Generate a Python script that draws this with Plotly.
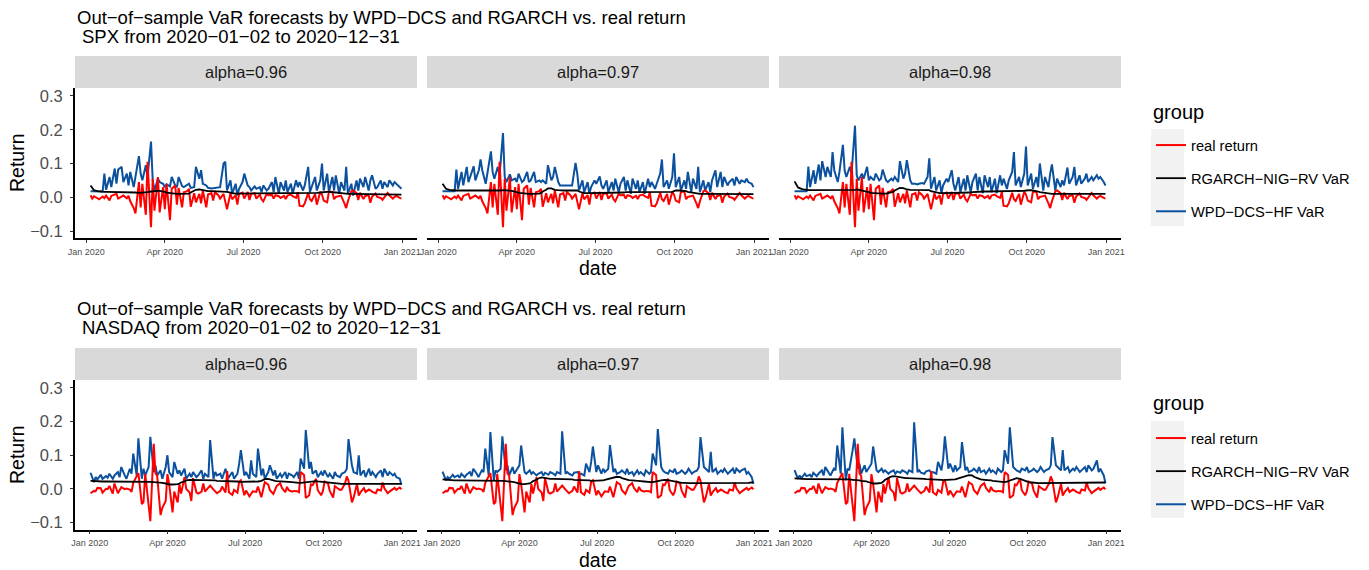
import pandas as pd
import plotly.graph_objects as go

W, H = 1369, 570
FONT = "Liberation Sans, Arial, Helvetica, sans-serif"

# ---------------- data ----------------
# trading-day grids (every second business day)
spx_dates = pd.bdate_range("2020-01-06", "2020-12-31")[::2]   # 130 points
ndq_dates = pd.bdate_range("2020-01-02", "2020-12-31")[::2]   # 131 points

facet_labels = ["alpha=0.96", "alpha=0.97", "alpha=0.98"]
group_names = ["real return", "RGARCH\u2212NIG\u2212RV VaR", "WPD\u2212DCS\u2212HF VaR"]
y_tickvals = [-0.1, 0.0, 0.1, 0.2, 0.3]
y_ticktext = ["\u22120.1", "0.0", "0.1", "0.2", "0.3"]

spx_real = [
    0.006, -0.004, 0.003, -0.002, -0.006, 0.002, -0.003, 0.005, -0.009, 0.004,
    0.007, 0.010, -0.004, 0.003, 0.005, -0.003, 0.004, -0.012, -0.032, -0.048,
    0.045, -0.030, 0.040, -0.052, 0.105, -0.089, 0.055, -0.040, 0.060, -0.045,
    0.030, -0.035, 0.040, -0.068, 0.025, 0.035, -0.022, 0.028, -0.030, 0.015,
    0.018, 0.025, -0.028, 0.012, -0.015, 0.010, -0.018, 0.020, -0.030, 0.008,
    0.012, -0.010, 0.015, 0.006, -0.004, 0.010, -0.012, -0.036, 0.012, -0.006,
    0.006, -0.022, 0.010, 0.014, -0.004, 0.016, -0.008, 0.010, 0.012, -0.004,
    0.008, -0.006, -0.012, 0.010, 0.006, 0.007, -0.004, 0.006, 0.003, -0.002,
    0.004, -0.005, 0.005, 0.008, 0.003, -0.002, 0.015, -0.025, -0.027, -0.018,
    0.013, -0.006, -0.011, 0.010, -0.022, 0.016, 0.008, -0.010, -0.015, 0.017,
    0.016, -0.006, 0.001, 0.005, 0.005, -0.018, -0.032, -0.012, 0.018, 0.020,
    0.012, -0.008, 0.013, -0.005, 0.004, 0.006, -0.016, 0.002, 0.011, 0.001,
    -0.002, -0.008, -0.001, 0.013, 0.006, -0.004, 0.001, 0.004, -0.002, -0.004,
]

spx_rgarch_096 = [
    0.035, 0.027, 0.021, 0.018, 0.017, 0.016, 0.016, 0.016, 0.016, 0.016,
    0.016, 0.016, 0.015, 0.015, 0.015, 0.014, 0.014, 0.014, 0.014, 0.014,
    0.013, 0.013, 0.013, 0.014, 0.015, 0.017, 0.018, 0.019, 0.019, 0.019,
    0.018, 0.016, 0.014, 0.012, 0.011, 0.011, 0.010, 0.010, 0.010, 0.010,
    0.010, 0.011, 0.014, 0.018, 0.022, 0.023, 0.022, 0.020, 0.019, 0.018,
    0.018, 0.018, 0.018, 0.018, 0.018, 0.018, 0.018, 0.016, 0.014, 0.012,
    0.011, 0.011, 0.011, 0.011, 0.011, 0.011, 0.011, 0.011, 0.011, 0.011,
    0.011, 0.011, 0.012, 0.012, 0.013, 0.013, 0.013, 0.013, 0.013, 0.013,
    0.013, 0.013, 0.013, 0.013, 0.013, 0.013, 0.013, 0.013, 0.013, 0.013,
    0.013, 0.013, 0.013, 0.013, 0.013, 0.014, 0.015, 0.016, 0.016, 0.016,
    0.016, 0.015, 0.014, 0.013, 0.012, 0.011, 0.010, 0.010, 0.010, 0.010,
    0.010, 0.010, 0.009, 0.009, 0.009, 0.009, 0.009, 0.009, 0.009, 0.009,
    0.009, 0.009, 0.009, 0.009, 0.009, 0.008, 0.008, 0.008, 0.008, 0.008,
]
spx_rgarch_097 = [
    0.040, 0.031, 0.025, 0.022, 0.021, 0.020, 0.020, 0.020, 0.020, 0.020,
    0.020, 0.020, 0.020, 0.019, 0.019, 0.019, 0.018, 0.018, 0.018, 0.018,
    0.018, 0.018, 0.018, 0.019, 0.020, 0.021, 0.021, 0.021, 0.020, 0.019,
    0.017, 0.015, 0.013, 0.012, 0.011, 0.011, 0.010, 0.010, 0.010, 0.010,
    0.011, 0.013, 0.017, 0.022, 0.026, 0.026, 0.024, 0.022, 0.021, 0.020,
    0.020, 0.020, 0.020, 0.020, 0.020, 0.020, 0.020, 0.017, 0.014, 0.012,
    0.012, 0.012, 0.012, 0.012, 0.012, 0.012, 0.012, 0.012, 0.012, 0.012,
    0.012, 0.012, 0.013, 0.013, 0.014, 0.014, 0.015, 0.015, 0.015, 0.015,
    0.015, 0.015, 0.015, 0.015, 0.015, 0.015, 0.015, 0.015, 0.015, 0.015,
    0.015, 0.015, 0.015, 0.015, 0.015, 0.016, 0.018, 0.020, 0.020, 0.020,
    0.020, 0.018, 0.016, 0.014, 0.012, 0.011, 0.010, 0.010, 0.010, 0.010,
    0.010, 0.010, 0.010, 0.010, 0.010, 0.010, 0.009, 0.009, 0.009, 0.009,
    0.009, 0.009, 0.009, 0.009, 0.009, 0.009, 0.009, 0.009, 0.009, 0.009,
]
spx_rgarch_098 = [
    0.047, 0.036, 0.029, 0.025, 0.023, 0.022, 0.021, 0.021, 0.021, 0.021,
    0.021, 0.021, 0.021, 0.020, 0.020, 0.020, 0.020, 0.020, 0.020, 0.020,
    0.020, 0.020, 0.020, 0.020, 0.021, 0.022, 0.023, 0.022, 0.021, 0.019,
    0.017, 0.015, 0.013, 0.012, 0.012, 0.011, 0.011, 0.011, 0.011, 0.012,
    0.013, 0.016, 0.020, 0.025, 0.028, 0.027, 0.025, 0.023, 0.022, 0.022,
    0.022, 0.022, 0.022, 0.022, 0.022, 0.022, 0.021, 0.018, 0.015, 0.013,
    0.012, 0.012, 0.012, 0.012, 0.012, 0.012, 0.012, 0.012, 0.012, 0.012,
    0.012, 0.012, 0.013, 0.014, 0.015, 0.016, 0.017, 0.017, 0.017, 0.017,
    0.017, 0.017, 0.017, 0.017, 0.017, 0.017, 0.017, 0.017, 0.017, 0.017,
    0.017, 0.017, 0.017, 0.017, 0.018, 0.019, 0.020, 0.021, 0.021, 0.020,
    0.019, 0.017, 0.015, 0.013, 0.012, 0.011, 0.011, 0.010, 0.010, 0.010,
    0.010, 0.010, 0.010, 0.010, 0.010, 0.010, 0.010, 0.010, 0.010, 0.010,
    0.010, 0.010, 0.010, 0.010, 0.010, 0.010, 0.010, 0.010, 0.010, 0.010,
]

spx_wpd_096 = [
    0.018, 0.018, 0.017, 0.017, 0.018, 0.017, 0.070, 0.022, 0.060, 0.030,
    0.085, 0.040, 0.082, 0.090, 0.045, 0.070, 0.035, 0.075, 0.030, 0.060,
    0.122, 0.070, 0.050, 0.095, 0.060, 0.165, 0.050, 0.020, 0.055, 0.045,
    0.040, 0.030, 0.038, 0.032, 0.060, 0.035, 0.030, 0.060, 0.033, 0.030,
    0.035, 0.040, 0.028, 0.030, 0.090, 0.055, 0.080, 0.040, 0.035, 0.028,
    0.026, 0.027, 0.026, 0.028, 0.030, 0.100, 0.105, 0.020, 0.050, 0.010,
    0.040, 0.005, 0.025, 0.045, 0.070, 0.035, 0.030, 0.020, 0.032, 0.025,
    0.030, 0.015, 0.035, 0.020, 0.025, 0.045, 0.015, 0.060, 0.010, 0.045,
    0.020, 0.050, 0.015, 0.040, 0.010, 0.050, 0.030, 0.045, 0.020, 0.035,
    0.090, 0.015, 0.030, 0.060, 0.020, 0.050, 0.100, 0.020, 0.070, 0.015,
    0.060, 0.020, 0.065, 0.010, 0.045, 0.020, 0.090, 0.010, 0.040, 0.005,
    0.050, 0.020, 0.055, 0.030, 0.060, 0.020, 0.050, 0.065, 0.025, 0.030,
    0.050, 0.025, 0.045, 0.030, 0.050, 0.035, 0.045, 0.040, 0.030, 0.025,
]
spx_wpd_097 = [
    0.018, 0.018, 0.018, 0.017, 0.018, 0.018, 0.082, 0.025, 0.075, 0.035,
    0.090, 0.045, 0.060, 0.092, 0.050, 0.080, 0.112, 0.080, 0.040, 0.070,
    0.136, 0.075, 0.055, 0.090, 0.065, 0.190, 0.060, 0.045, 0.068, 0.050,
    0.055, 0.045, 0.070, 0.045, 0.050, 0.075, 0.045, 0.050, 0.075, 0.045,
    0.050, 0.045, 0.050, 0.040, 0.095, 0.050, 0.060, 0.090, 0.045, 0.035,
    0.035, 0.034, 0.035, 0.036, 0.035, 0.102, 0.070, 0.020, 0.050, 0.015,
    0.045, 0.010, 0.030, 0.050, 0.040, 0.062, 0.035, 0.025, 0.050, 0.015,
    0.045, 0.020, 0.055, 0.015, 0.040, 0.060, 0.020, 0.050, 0.010, 0.055,
    0.025, 0.050, 0.015, 0.045, 0.010, 0.055, 0.030, 0.045, 0.025, 0.040,
    0.070, 0.112, 0.030, 0.050, 0.025, 0.060, 0.130, 0.030, 0.060, 0.020,
    0.050, 0.025, 0.075, 0.015, 0.055, 0.025, 0.090, 0.015, 0.050, 0.020,
    0.045, 0.015, 0.050, 0.080, 0.030, 0.075, 0.030, 0.060, 0.035, 0.045,
    0.055, 0.035, 0.060, 0.040, 0.050, 0.045, 0.055, 0.045, 0.040, 0.030,
]
spx_wpd_098 = [
    0.018, 0.018, 0.018, 0.018, 0.018, 0.018, 0.091, 0.030, 0.080, 0.040,
    0.097, 0.050, 0.107, 0.060, 0.090, 0.060, 0.134, 0.080, 0.045, 0.075,
    0.155, 0.080, 0.060, 0.090, 0.070, 0.212, 0.065, 0.050, 0.070, 0.055,
    0.090, 0.050, 0.060, 0.050, 0.070, 0.050, 0.055, 0.082, 0.050, 0.045,
    0.055, 0.050, 0.060, 0.045, 0.107, 0.055, 0.070, 0.110, 0.050, 0.040,
    0.040, 0.038, 0.040, 0.042, 0.040, 0.060, 0.115, 0.025, 0.060, 0.020,
    0.050, 0.012, 0.035, 0.055, 0.045, 0.080, 0.040, 0.020, 0.060, 0.015,
    0.055, 0.020, 0.065, 0.015, 0.045, 0.070, 0.020, 0.060, 0.012, 0.065,
    0.030, 0.060, 0.015, 0.055, 0.012, 0.065, 0.035, 0.055, 0.025, 0.050,
    0.075, 0.134, 0.035, 0.060, 0.030, 0.070, 0.150, 0.035, 0.070, 0.025,
    0.060, 0.030, 0.100, 0.020, 0.060, 0.030, 0.070, 0.097, 0.020, 0.055,
    0.030, 0.050, 0.035, 0.088, 0.040, 0.060, 0.090, 0.035, 0.065, 0.040,
    0.055, 0.070, 0.045, 0.060, 0.050, 0.065, 0.055, 0.060, 0.045, 0.035,
]

ndq_real = [
    -0.013, -0.006, -0.007, 0.003, 0.002, -0.011, 0.000, -0.001, 0.009, -0.014,
    0.016, -0.013, -0.004, 0.005, -0.001, 0.001, -0.002, -0.009, 0.018, 0.037,
    0.047, -0.045, -0.039, 0.045, -0.050, -0.096, 0.134, 0.047, 0.038, -0.078,
    -0.056, -0.036, 0.044, 0.015, -0.070, -0.008, -0.040, 0.014, -0.014, 0.035,
    0.000, -0.011, -0.036, 0.032, -0.011, -0.014, -0.008, 0.016, -0.008, 0.005,
    0.010, -0.002, -0.008, -0.013, -0.006, 0.007, -0.011, 0.053, -0.010, -0.018,
    -0.003, -0.011, 0.022, 0.026, -0.019, -0.005, -0.022, -0.014, -0.007, -0.009,
    0.007, -0.025, -0.002, 0.020, 0.013, -0.004, -0.015, -0.005, 0.009, 0.017,
    0.003, -0.010, 0.006, -0.004, -0.008, -0.006, -0.007, -0.010, 0.050, 0.041,
    -0.027, -0.019, 0.013, 0.011, 0.030, -0.004, -0.019, -0.007, 0.022, 0.016,
    -0.005, -0.026, 0.008, 0.004, -0.003, -0.002, 0.016, 0.037, 0.024, -0.040,
    -0.026, 0.015, -0.020, -0.010, 0.002, -0.009, -0.002, -0.005, -0.009, -0.013,
    -0.002, -0.005, 0.019, 0.002, -0.013, -0.008, 0.001, 0.003, -0.003, 0.004, -0.001,
]

ndq_rgarch_096 = [
    0.024, 0.023, 0.022, 0.022, 0.022, 0.022, 0.022, 0.022, 0.022, 0.022,
    0.022, 0.022, 0.022, 0.022, 0.023, 0.023, 0.023, 0.023, 0.023, 0.023,
    0.023, 0.023, 0.022, 0.022, 0.021, 0.021, 0.020, 0.020, 0.019, 0.019,
    0.018, 0.016, 0.014, 0.013, 0.013, 0.013, 0.014, 0.016, 0.019, 0.022,
    0.025, 0.027, 0.027, 0.026, 0.025, 0.025, 0.025, 0.025, 0.025, 0.025,
    0.025, 0.025, 0.025, 0.024, 0.024, 0.024, 0.024, 0.023, 0.023, 0.023,
    0.022, 0.022, 0.021, 0.021, 0.021, 0.021, 0.021, 0.021, 0.021, 0.021,
    0.022, 0.024, 0.027, 0.029, 0.030, 0.028, 0.026, 0.024, 0.023, 0.023,
    0.023, 0.022, 0.022, 0.021, 0.020, 0.019, 0.019, 0.018, 0.018, 0.019,
    0.020, 0.021, 0.022, 0.023, 0.023, 0.022, 0.021, 0.020, 0.019, 0.018,
    0.017, 0.016, 0.015, 0.015, 0.015, 0.015, 0.015, 0.015, 0.015, 0.015,
    0.015, 0.015, 0.015, 0.015, 0.015, 0.015, 0.015, 0.014, 0.014, 0.014,
    0.014, 0.014, 0.014, 0.015, 0.015, 0.015, 0.015, 0.015, 0.015, 0.015, 0.015,
]
ndq_rgarch_097 = [
    0.028, 0.027, 0.026, 0.025, 0.025, 0.025, 0.025, 0.025, 0.025, 0.025,
    0.025, 0.025, 0.025, 0.025, 0.026, 0.026, 0.026, 0.026, 0.026, 0.026,
    0.026, 0.026, 0.025, 0.025, 0.024, 0.024, 0.023, 0.023, 0.022, 0.021,
    0.020, 0.017, 0.015, 0.014, 0.014, 0.014, 0.016, 0.019, 0.023, 0.027,
    0.031, 0.034, 0.033, 0.031, 0.030, 0.030, 0.030, 0.030, 0.030, 0.029,
    0.029, 0.029, 0.028, 0.028, 0.028, 0.027, 0.027, 0.026, 0.026, 0.025,
    0.025, 0.025, 0.024, 0.024, 0.024, 0.024, 0.024, 0.025, 0.027, 0.029,
    0.031, 0.033, 0.035, 0.036, 0.035, 0.032, 0.029, 0.027, 0.026, 0.025,
    0.025, 0.025, 0.024, 0.023, 0.022, 0.021, 0.021, 0.020, 0.020, 0.021,
    0.023, 0.025, 0.027, 0.027, 0.026, 0.025, 0.023, 0.021, 0.020, 0.019,
    0.018, 0.018, 0.017, 0.017, 0.017, 0.017, 0.017, 0.017, 0.017, 0.017,
    0.017, 0.017, 0.017, 0.017, 0.017, 0.017, 0.017, 0.017, 0.016, 0.016,
    0.016, 0.016, 0.017, 0.017, 0.017, 0.018, 0.018, 0.018, 0.018, 0.019, 0.019,
]
ndq_rgarch_098 = [
    0.031, 0.030, 0.029, 0.029, 0.029, 0.029, 0.029, 0.029, 0.029, 0.029,
    0.029, 0.029, 0.029, 0.029, 0.030, 0.030, 0.030, 0.030, 0.030, 0.030,
    0.030, 0.029, 0.029, 0.028, 0.027, 0.027, 0.026, 0.025, 0.024, 0.023,
    0.022, 0.019, 0.017, 0.016, 0.016, 0.016, 0.018, 0.022, 0.027, 0.032,
    0.036, 0.038, 0.037, 0.035, 0.033, 0.032, 0.032, 0.032, 0.032, 0.032,
    0.032, 0.031, 0.031, 0.030, 0.030, 0.029, 0.029, 0.028, 0.028, 0.027,
    0.027, 0.027, 0.026, 0.026, 0.026, 0.026, 0.027, 0.028, 0.030, 0.033,
    0.035, 0.037, 0.039, 0.041, 0.040, 0.036, 0.032, 0.030, 0.028, 0.027,
    0.027, 0.026, 0.025, 0.024, 0.023, 0.022, 0.021, 0.021, 0.020, 0.022,
    0.025, 0.028, 0.031, 0.032, 0.030, 0.028, 0.025, 0.022, 0.020, 0.019,
    0.018, 0.018, 0.017, 0.017, 0.017, 0.017, 0.017, 0.017, 0.017, 0.017,
    0.017, 0.017, 0.017, 0.017, 0.017, 0.017, 0.017, 0.017, 0.017, 0.017,
    0.017, 0.017, 0.018, 0.018, 0.018, 0.018, 0.019, 0.019, 0.019, 0.019, 0.019,
]

ndq_wpd_096 = [
    0.048, 0.020, 0.035, 0.028, 0.042, 0.030, 0.038, 0.033, 0.045, 0.030,
    0.040, 0.050, 0.035, 0.065, 0.040, 0.030, 0.060, 0.045, 0.105, 0.040,
    0.150, 0.030, 0.060, 0.040, 0.065, 0.155, 0.050, 0.070, 0.040, 0.055,
    0.030, 0.065, 0.100, 0.050, 0.035, 0.080, 0.045, 0.055, 0.040, 0.060,
    0.030, 0.045, 0.035, 0.050, 0.035, 0.040, 0.055, 0.030, 0.045, 0.035,
    0.145, 0.030, 0.050, 0.040, 0.045, 0.030, 0.060, 0.040, 0.035, 0.050,
    0.030, 0.045, 0.075, 0.115, 0.040, 0.050, 0.030, 0.085, 0.045, 0.035,
    0.120, 0.040, 0.060, 0.030, 0.050, 0.070, 0.040, 0.055, 0.030, 0.045,
    0.035, 0.050, 0.030, 0.045, 0.040, 0.035, 0.050, 0.030, 0.090, 0.060,
    0.175, 0.060, 0.080, 0.045, 0.055, 0.035, 0.050, 0.040, 0.055, 0.035,
    0.045, 0.030, 0.050, 0.040, 0.035, 0.045, 0.050, 0.060, 0.148, 0.070,
    0.050, 0.045, 0.100, 0.040, 0.055, 0.035, 0.060, 0.040, 0.050, 0.035,
    0.045, 0.055, 0.035, 0.060, 0.040, 0.050, 0.040, 0.045, 0.035, 0.030, 0.012,
]
ndq_wpd_097 = [
    0.051, 0.025, 0.035, 0.030, 0.042, 0.035, 0.040, 0.033, 0.045, 0.035,
    0.042, 0.050, 0.038, 0.060, 0.045, 0.035, 0.055, 0.050, 0.120, 0.040,
    0.169, 0.025, 0.055, 0.050, 0.060, 0.156, 0.055, 0.070, 0.040, 0.065,
    0.045, 0.060, 0.070, 0.129, 0.050, 0.045, 0.055, 0.045, 0.050, 0.040,
    0.045, 0.050, 0.040, 0.048, 0.042, 0.050, 0.045, 0.040, 0.050, 0.045,
    0.171, 0.045, 0.050, 0.045, 0.040, 0.048, 0.050, 0.042, 0.045, 0.040,
    0.075, 0.050, 0.080, 0.126, 0.050, 0.070, 0.045, 0.060, 0.050, 0.060,
    0.130, 0.050, 0.060, 0.045, 0.050, 0.055, 0.045, 0.060, 0.045, 0.050,
    0.040, 0.055, 0.045, 0.050, 0.040, 0.055, 0.045, 0.050, 0.105, 0.070,
    0.178, 0.065, 0.055, 0.050, 0.045, 0.055, 0.050, 0.060, 0.045, 0.050,
    0.055, 0.045, 0.050, 0.060, 0.045, 0.050, 0.055, 0.065, 0.154, 0.065,
    0.060, 0.050, 0.110, 0.050, 0.060, 0.045, 0.055, 0.050, 0.060, 0.045,
    0.050, 0.060, 0.045, 0.060, 0.050, 0.055, 0.060, 0.045, 0.050, 0.035, 0.015,
]
ndq_wpd_098 = [
    0.056, 0.030, 0.040, 0.032, 0.045, 0.038, 0.042, 0.035, 0.048, 0.038,
    0.045, 0.055, 0.040, 0.065, 0.048, 0.040, 0.060, 0.055, 0.129, 0.045,
    0.183, 0.025, 0.060, 0.055, 0.115, 0.150, 0.060, 0.075, 0.045, 0.070,
    0.050, 0.065, 0.075, 0.126, 0.055, 0.050, 0.060, 0.050, 0.055, 0.045,
    0.050, 0.055, 0.045, 0.052, 0.048, 0.055, 0.050, 0.045, 0.055, 0.050,
    0.198, 0.050, 0.055, 0.048, 0.045, 0.052, 0.055, 0.048, 0.050, 0.045,
    0.080, 0.055, 0.090, 0.156, 0.060, 0.075, 0.050, 0.070, 0.055, 0.065,
    0.139, 0.055, 0.065, 0.050, 0.055, 0.060, 0.050, 0.065, 0.050, 0.055,
    0.045, 0.060, 0.050, 0.055, 0.045, 0.060, 0.050, 0.055, 0.115, 0.075,
    0.183, 0.065, 0.060, 0.055, 0.050, 0.060, 0.055, 0.065, 0.050, 0.055,
    0.060, 0.050, 0.055, 0.065, 0.050, 0.055, 0.060, 0.070, 0.154, 0.070,
    0.065, 0.055, 0.115, 0.055, 0.065, 0.050, 0.060, 0.055, 0.065, 0.050,
    0.055, 0.065, 0.050, 0.070, 0.055, 0.060, 0.085, 0.050, 0.060, 0.040, 0.017,
]

# ---------------- layout helpers ----------------
def px_x(p):
    return p / W

def px_y(p):
    return 1 - p / H

COLORS = {group_names[0]: "#FF0000", group_names[1]: "#000000", group_names[2]: "#0B519E"}
RANK = {group_names[0]: 1, group_names[1]: 2, group_names[2]: 3}
WIDTH = {group_names[0]: 2.0, group_names[1]: 1.8, group_names[2]: 2.0}

col_px = [(75, 417), (427, 769), (779, 1121)]
rows = [
    dict(index="SPX", dates=spx_dates, real=spx_real,
         rgarch=[spx_rgarch_096, spx_rgarch_097, spx_rgarch_098],
         wpd=[spx_wpd_096, spx_wpd_097, spx_wpd_098],
         panel=(88, 238), strip=(56, 88), title_y=(18, 37),
         xrange=["2019-12-19", "2021-01-18"], legend="legend",
         keybox=(129, 226), group_y=112, item1_y=144, date_y=268, ret_y=163),
    dict(index="NASDAQ", dates=ndq_dates, real=ndq_real,
         rgarch=[ndq_rgarch_096, ndq_rgarch_097, ndq_rgarch_098],
         wpd=[ndq_wpd_096, ndq_wpd_097, ndq_wpd_098],
         panel=(380, 529.5), strip=(348, 380), title_y=(308, 327),
         xrange=["2019-12-14 19:00", "2021-01-18 05:00"], legend="legend2",
         keybox=(421, 518), group_y=403, item1_y=437, date_y=560, ret_y=455),
]

fig = go.Figure()
shapes, annotations = [], []
layout_axes = {}

for r, row in enumerate(rows):
    for c in range(3):
        k = r * 3 + c + 1
        xa, ya = f"x{k}", f"y{k}"
        series = [
            (group_names[2], row["wpd"][c]),
            (group_names[0], row["real"]),
            (group_names[1], row["rgarch"][c]),
        ]
        for name, vals in series:
            n = min(len(vals), len(row["dates"]))
            fig.add_trace(go.Scatter(
                x=row["dates"][:n], y=vals[:n], mode="lines", name=name,
                line=dict(color=COLORS[name], width=WIDTH[name]),
                xaxis=xa, yaxis=ya, legend=row["legend"],
                legendgroup=f"{row['index']}-{name}", legendrank=RANK[name],
                showlegend=(c == 0), hoverinfo="skip",
            ))
        x0, x1 = col_px[c]
        p0, p1 = row["panel"]
        first = c == 0
        layout_axes[f"xaxis{k}"] = dict(
            domain=[px_x(x0), px_x(x1)], anchor=ya, type="date",
            range=row["xrange"], tick0="2020-01-01", dtick="M3",
            tickformat="%b %Y", showgrid=False, zeroline=False,
            showline=True, linecolor="#000000", linewidth=1.8,
            ticks="outside", ticklen=3, tickwidth=1, tickcolor="#333333",
            tickfont=dict(family=FONT, size=9, color="#4D4D4D"),
            ticklabelstandoff=1, automargin=False,
        )
        layout_axes[f"yaxis{k}"] = dict(
            domain=[px_y(p1), px_y(p0)], anchor=xa,
            range=[-0.1207, 0.3236], tickvals=y_tickvals, ticktext=y_ticktext,
            showgrid=False, zeroline=False,
            showline=first, linecolor="#000000", linewidth=1.8,
            ticks="outside" if first else "", ticklen=3, tickwidth=1,
            tickcolor="#333333", showticklabels=first,
            tickfont=dict(family=FONT, size=16.5, color="#4D4D4D"),
            ticklabelstandoff=4, automargin=False,
        )
        s0, s1 = row["strip"]
        shapes.append(dict(type="rect", xref="paper", yref="paper",
                           x0=px_x(x0), x1=px_x(x1), y0=px_y(s1), y1=px_y(s0),
                           fillcolor="#D9D9D9", line=dict(width=0), layer="below"))
        annotations.append(dict(text=facet_labels[c], xref="paper", yref="paper",
                                x=px_x((x0 + x1) / 2), y=px_y((s0 + s1) / 2),
                                xanchor="center", yanchor="middle", showarrow=False,
                                font=dict(family=FONT, size=16.5, color="#1A1A1A")))

    t1, t2 = row["title_y"]
    annotations.append(dict(
        text="Out\u2212of\u2212sample VaR forecasts by WPD\u2212DCS and RGARCH vs. real return",
        xref="paper", yref="paper", x=px_x(75), y=px_y(t1), xanchor="left",
        yanchor="middle", showarrow=False,
        font=dict(family=FONT, size=18.5, color="#000000")))
    annotations.append(dict(
        text=f"{row['index']} from 2020\u221201\u221202 to 2020\u221212\u221231",
        xref="paper", yref="paper", x=px_x(80), y=px_y(t2), xanchor="left",
        yanchor="middle", showarrow=False,
        font=dict(family=FONT, size=18.5, color="#000000")))
    annotations.append(dict(text="Return", xref="paper", yref="paper",
                            x=px_x(17), y=px_y(row["ret_y"]), textangle=-90,
                            xanchor="center", yanchor="middle", showarrow=False,
                            font=dict(family=FONT, size=19.5, color="#000000")))
    annotations.append(dict(text="date", xref="paper", yref="paper",
                            x=px_x(598), y=px_y(row["date_y"]),
                            xanchor="center", yanchor="middle", showarrow=False,
                            font=dict(family=FONT, size=19.5, color="#000000")))
    # legend title and grey key background
    annotations.append(dict(text="group", xref="paper", yref="paper",
                            x=px_x(1151), y=px_y(row["group_y"]),
                            xanchor="left", yanchor="middle", showarrow=False,
                            font=dict(family=FONT, size=20, color="#000000")))
    kb0, kb1 = row["keybox"]
    shapes.append(dict(type="rect", xref="paper", yref="paper",
                       x0=px_x(1151), x1=px_x(1184), y0=px_y(kb1), y1=px_y(kb0),
                       fillcolor="#F2F2F2", line=dict(width=0), layer="below"))
    layout_axes[row["legend"]] = dict(
        xref="container", yref="container",
        x=px_x(1151), y=px_y(row["item1_y"] - 15), xanchor="left", yanchor="top",
        font=dict(family=FONT, size=14.7, color="#000000"),
        bgcolor="rgba(0,0,0,0)", borderwidth=0, tracegroupgap=11,
        traceorder="grouped", itemwidth=30,
    )

fig.update_layout(
    width=W, height=H, autosize=False,
    margin=dict(l=0, r=0, t=0, b=0, autoexpand=False),
    paper_bgcolor="#FFFFFF", plot_bgcolor="#FFFFFF",
    font=dict(family=FONT),
    shapes=shapes, annotations=annotations,
    **layout_axes,
)

fig.write_html("out.html", config={"displayModeBar": False})
